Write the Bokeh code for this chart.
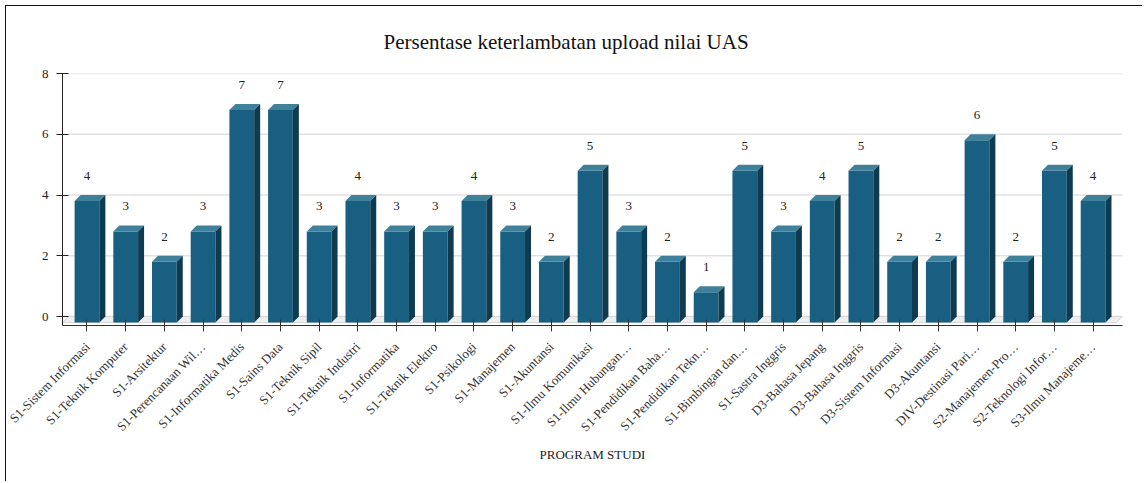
import numpy as np
from bokeh.plotting import figure
from bokeh.models import Range1d, FixedTicker
from bokeh.core.properties import value
from bokeh.embed import file_html
from bokeh.resources import INLINE

# ---------------- data ----------------
categories = [
    "S1-Sistem Informasi", "S1-Teknik Komputer", "S1-Arsitektur", "S1-Perencanaan Wil…",
    "S1-Informatika Medis", "S1-Sains Data", "S1-Teknik Sipil", "S1-Teknik Industri",
    "S1-Informatika", "S1-Teknik Elektro", "S1-Psikologi", "S1-Manajemen",
    "S1-Akuntansi", "S1-Ilmu Komunikasi", "S1-Ilmu Hubungan…", "S1-Pendidikan Baha…",
    "S1-Pendidikan Tekn…", "S1-Bimbingan dan…", "S1-Sastra Inggris", "D3-Bahasa Jepang",
    "D3-Bahasa Inggris", "D3-Sistem Informasi", "D3-Akuntansi", "DIV-Destinasi Pari…",
    "S2-Manajemen-Pro…", "S2-Teknologi Infor…", "S3-Ilmu Manajeme…",
]
values = [4, 3, 2, 3, 7, 7, 3, 4, 3, 3, 4, 3, 2, 5, 3, 2, 1, 5, 3, 4, 5, 2, 2, 6, 2, 5, 4]
y_ticks = [0, 2, 4, 6, 8]
title_text = "Persentase keterlambatan upload nilai UAS"
x_label = "PROGRAM STUDI"

# ---------------- style / geometry ----------------
FONT = "Liberation Serif"
FRONT = "#185f81"
TOP = "#3f809b"
SIDE = "#0f3b51"
X0, X1 = -0.633, 26.76
Y0, Y1 = -0.296, 8.0
DX = 0.155     # 3D depth, x (data units)
DY = 0.1975    # 3D depth, y (data units)
HW = 0.32      # half bar width

idx = list(range(len(categories)))

p = figure(
    width=1137, height=476,
    x_range=Range1d(X0, X1), y_range=Range1d(Y0, Y1),
    output_backend="svg", toolbar_location=None,
    min_border_left=56, min_border_right=21, min_border_top=67, min_border_bottom=157,
    title=title_text,
)
p.styles = {"border-left": "1px solid #111", "border-top": "1px solid #111",
            "margin-left": "5px", "margin-top": "5px"}
p.outline_line_color = None
p.background_fill_color = "white"
p.border_fill_color = "white"
p.grid.visible = False

# title
p.title.text_font = FONT
p.title.text_font_size = "21px"
p.title.text_font_style = "normal"
p.title.text_color = "#111111"
p.title.align = "left"
p.title.offset = 321
p.title.standoff = 39

# grid lines on back plane
p.segment(x0=[X0 + DX] * len(y_ticks), x1=[X1] * len(y_ticks), y0=y_ticks, y1=y_ticks,
          line_color="#e2e2e2", line_width=1.5, level="underlay")

# floor
p.patch(x=[X0, X0 + DX, X1, X1 - DX], y=[-DY, 0, 0, -DY],
        fill_color="#eeeeee", line_color="#d8d8d8", line_width=1)

# bars
xs = np.array(idx, dtype=float)
vs = np.array(values, dtype=float)
p.quad(left=xs - HW, right=xs + HW, bottom=-DY, top=vs - DY,
       fill_color=FRONT, line_color=None)
top_xs = [[x - HW, x - HW + DX, x + HW + DX, x + HW] for x in xs]
top_ys = [[v - DY, v, v, v - DY] for v in vs]
p.patches(top_xs, top_ys, fill_color=TOP, line_color=None)
side_xs = [[x + HW, x + HW + DX, x + HW + DX, x + HW] for x in xs]
side_ys = [[v - DY, v, 0, -DY] for v in vs]
p.patches(side_xs, side_ys, fill_color=SIDE, line_color=None)

# value labels
p.text(x=xs, y=vs, text=[str(v) for v in values], y_offset=-19,
       text_align="center", text_baseline="middle",
       text_font=value(FONT), text_font_size="13px", text_color="#222222")

# x axis
xa = p.xaxis[0]
xa.ticker = FixedTicker(ticks=idx)
xa.major_label_overrides = {i: c for i, c in zip(idx, categories)}
xa.major_label_orientation = np.pi / 4
xa.major_tick_in = 6
xa.major_tick_out = 6
xa.minor_tick_line_color = None
xa.axis_line_color = "#333333"
xa.major_tick_line_color = "#333333"
xa.major_label_text_font = FONT
xa.major_label_text_font_size = "13px"
xa.major_label_text_color = "#333333"
xa.major_label_standoff = 13
xa.axis_label = x_label
xa.axis_label_text_font = FONT
xa.axis_label_text_font_size = "13px"
xa.axis_label_text_font_style = "normal"
xa.axis_label_text_color = "#222222"
xa.axis_label_standoff = 4

# y axis
ya = p.yaxis[0]
ya.ticker = FixedTicker(ticks=y_ticks)
ya.major_tick_in = 6
ya.major_tick_out = 6
ya.minor_tick_line_color = None
ya.axis_line_color = "#222222"
ya.major_tick_line_color = "#222222"
ya.major_label_text_font = FONT
ya.major_label_text_font_size = "13px"
ya.major_label_text_color = "#222222"
ya.major_label_standoff = 8

open("out.html", "w").write(file_html(p, INLINE))
